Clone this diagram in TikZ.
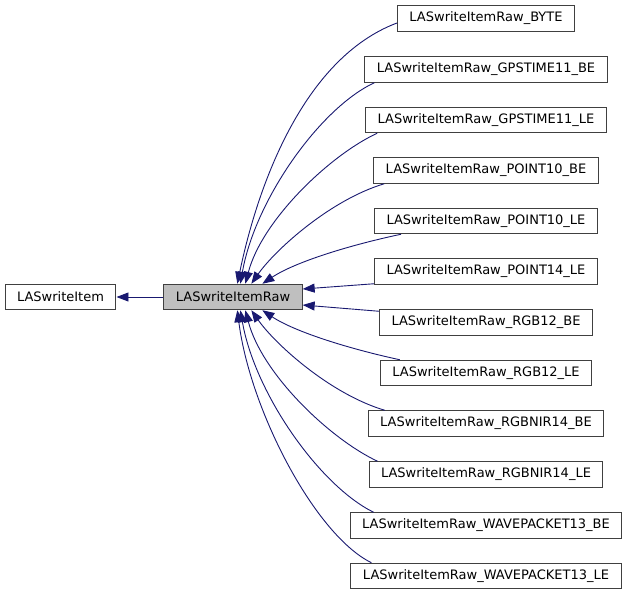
\documentclass[tikz,border=0pt]{standalone}
\usepackage{fontspec}
\setmainfont{DejaVu Sans}
\usetikzlibrary{arrows.meta,calc}
\definecolor{edgeblue}{HTML}{191970}
\definecolor{boxgray}{HTML}{BFBFBF}
\begin{document}
\begin{tikzpicture}[x=1pt,y=-1pt,
  cls/.style={draw=black!75,line width=1pt,fill=white,inner xsep=12pt,inner ysep=0pt,
    minimum height=25.5pt,font=\fontsize{13}{15}\selectfont,text=black},
  cur/.style={cls,fill=boxgray},
  inh/.style={draw=edgeblue,line width=0.9pt,
    -{Triangle[length=12pt,width=9pt,fill=edgeblue]}}]
\useasboundingbox (0,0) rectangle (628,595);
\node[cls] (base) at (60.5,297) {LASwriteItem};
\node[cur] (raw) at (233,297) {LASwriteItemRaw};
\node[cls] (c1) at (486,18.5) {LASwriteItemRaw\_BYTE};
\node[cls] (c2) at (486,69.5) {LASwriteItemRaw\_GPSTIME11\_BE};
\node[cls] (c3) at (486,120) {LASwriteItemRaw\_GPSTIME11\_LE};
\node[cls] (c4) at (486,170.5) {LASwriteItemRaw\_POINT10\_BE};
\node[cls] (c5) at (486,221) {LASwriteItemRaw\_POINT10\_LE};
\node[cls] (c6) at (486,271.5) {LASwriteItemRaw\_POINT14\_LE};
\node[cls] (c7) at (486,322.5) {LASwriteItemRaw\_RGB12\_BE};
\node[cls] (c8) at (486,373) {LASwriteItemRaw\_RGB12\_LE};
\node[cls] (c9) at (486,423.5) {LASwriteItemRaw\_RGBNIR14\_BE};
\node[cls] (c10) at (486,474.5) {LASwriteItemRaw\_RGBNIR14\_LE};
\node[cls] (c11) at (486,525.5) {LASwriteItemRaw\_WAVEPACKET13\_BE};
\node[cls] (c12) at (486,576) {LASwriteItemRaw\_WAVEPACKET13\_LE};
% base edge
\draw[inh] (raw.west) -- (base.east);
% top edges
\draw[inh] ($(c1.west)+(0,4.5)$) .. controls (304,58) and (258,184) .. ($(raw.north west)+(74,0)$);
\draw[inh] ($(c2.south west)+(10,0)$) .. controls (320,108) and (255,200) .. ($(raw.north west)+(77,0)$);
\draw[inh] ($(c3.south west)+(12,0)$) .. controls (330,155) and (262,220) .. ($(raw.north west)+(82,0)$);
\draw[inh] ($(c4.south west)+(11,0)$) .. controls (330,200) and (275,250) .. ($(raw.north west)+(88,0)$);
\draw[inh] ($(c5.south west)+(27,0)$) .. controls (350,245) and (295,262) .. ($(raw.north west)+(99,0)$);
\draw[inh] ($(c6.south west)+(0,-1)$) -- ($(raw.east)+(0,-8)$);
% bottom edges
\draw[inh] ($(c7.north west)+(0,2)$) -- ($(raw.east)+(0,8)$);
\draw[inh] ($(c8.north west)+(20,0)$) .. controls (350,349) and (295,332) .. ($(raw.south west)+(99,0)$);
\draw[inh] ($(c9.north west)+(17,0)$) .. controls (330,394) and (275,344) .. ($(raw.south west)+(88,0)$);
\draw[inh] ($(c10.north west)+(9,0)$) .. controls (330,439) and (262,374) .. ($(raw.south west)+(82,0)$);
\draw[inh] ($(c11.north west)+(24,0)$) .. controls (320,486) and (255,394) .. ($(raw.south west)+(77,0)$);
\draw[inh] ($(c12.north west)+(21,0)$) .. controls (315,535) and (250,410) .. ($(raw.south west)+(74,0)$);
\end{tikzpicture}
\end{document}
